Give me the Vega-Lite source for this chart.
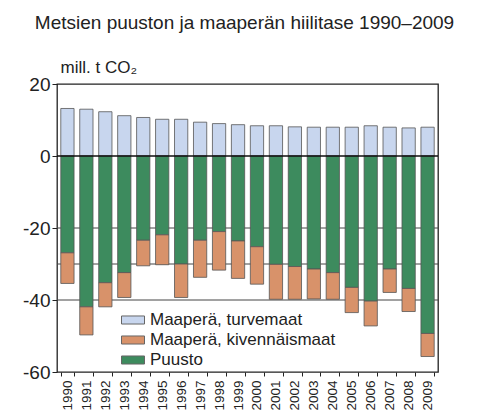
{
  "$schema": "https://vega.github.io/schema/vega-lite/v6.json",
  "width": 381,
  "height": 288,
  "autosize": "none",
  "padding": {"left": 57, "top": 84, "right": 52, "bottom": 48},
  "background": "white",
  "config": {
    "view": {"stroke": "#222", "strokeWidth": 1.3},
    "font": "Liberation Sans"
  },
  "title": {
    "text": "Metsien puuston ja maaperän hiilitase 1990–2009",
    "fontSize": 19,
    "fontWeight": "normal",
    "color": "#222",
    "anchor": "middle",
    "frame": "group",
    "offset": 25,
    "dx": -3
  },
  "layer": [
    {
      "data": {"values": [{"g": -20}, {"g": -30}, {"g": -40}]},
      "mark": {"type": "rule", "color": "#444", "strokeWidth": 1},
      "encoding": {
        "y": {"field": "g", "type": "quantitative", "scale": {"domain": [-60, 20], "nice": false},
          "axis": {"values": [20, 0, -20, -40, -60], "labelExpr": "replace(datum.label, '−', '-')", "title": "mill. t CO₂", "titleAngle": 0, "titleAlign": "left", "titleBaseline": "alphabetic", "titleX": 3, "titleY": -12, "titleFontSize": 17, "titleFontWeight": "normal", "titleColor": "#222", "labelFontSize": 19, "labelColor": "#222", "tickSize": 5, "tickColor": "#222", "domain": false, "grid": false, "labelPadding": 2}}
      }
    },
    {
      "data": {"values": [
        {"year": "1990", "category": "Maaperä, turvemaat", "value": 13.2},
        {"year": "1990", "category": "Puusto", "value": -26.9},
        {"year": "1990", "category": "Maaperä, kivennäismaat", "value": -8.5},
        {"year": "1991", "category": "Maaperä, turvemaat", "value": 13.0},
        {"year": "1991", "category": "Puusto", "value": -41.9},
        {"year": "1991", "category": "Maaperä, kivennäismaat", "value": -7.8},
        {"year": "1992", "category": "Maaperä, turvemaat", "value": 12.3},
        {"year": "1992", "category": "Puusto", "value": -35.2},
        {"year": "1992", "category": "Maaperä, kivennäismaat", "value": -6.7},
        {"year": "1993", "category": "Maaperä, turvemaat", "value": 11.2},
        {"year": "1993", "category": "Puusto", "value": -32.4},
        {"year": "1993", "category": "Maaperä, kivennäismaat", "value": -6.9},
        {"year": "1994", "category": "Maaperä, turvemaat", "value": 10.7},
        {"year": "1994", "category": "Puusto", "value": -23.4},
        {"year": "1994", "category": "Maaperä, kivennäismaat", "value": -7.1},
        {"year": "1995", "category": "Maaperä, turvemaat", "value": 10.2},
        {"year": "1995", "category": "Puusto", "value": -21.9},
        {"year": "1995", "category": "Maaperä, kivennäismaat", "value": -8.3},
        {"year": "1996", "category": "Maaperä, turvemaat", "value": 10.2},
        {"year": "1996", "category": "Puusto", "value": -30.0},
        {"year": "1996", "category": "Maaperä, kivennäismaat", "value": -9.3},
        {"year": "1997", "category": "Maaperä, turvemaat", "value": 9.4},
        {"year": "1997", "category": "Puusto", "value": -23.4},
        {"year": "1997", "category": "Maaperä, kivennäismaat", "value": -10.3},
        {"year": "1998", "category": "Maaperä, turvemaat", "value": 9.0},
        {"year": "1998", "category": "Puusto", "value": -21.0},
        {"year": "1998", "category": "Maaperä, kivennäismaat", "value": -10.7},
        {"year": "1999", "category": "Maaperä, turvemaat", "value": 8.7},
        {"year": "1999", "category": "Puusto", "value": -23.6},
        {"year": "1999", "category": "Maaperä, kivennäismaat", "value": -10.4},
        {"year": "2000", "category": "Maaperä, turvemaat", "value": 8.4},
        {"year": "2000", "category": "Puusto", "value": -25.2},
        {"year": "2000", "category": "Maaperä, kivennäismaat", "value": -10.4},
        {"year": "2001", "category": "Maaperä, turvemaat", "value": 8.4},
        {"year": "2001", "category": "Puusto", "value": -30.1},
        {"year": "2001", "category": "Maaperä, kivennäismaat", "value": -9.7},
        {"year": "2002", "category": "Maaperä, turvemaat", "value": 8.1},
        {"year": "2002", "category": "Puusto", "value": -30.7},
        {"year": "2002", "category": "Maaperä, kivennäismaat", "value": -9.1},
        {"year": "2003", "category": "Maaperä, turvemaat", "value": 8.0},
        {"year": "2003", "category": "Puusto", "value": -31.4},
        {"year": "2003", "category": "Maaperä, kivennäismaat", "value": -8.3},
        {"year": "2004", "category": "Maaperä, turvemaat", "value": 8.0},
        {"year": "2004", "category": "Puusto", "value": -32.4},
        {"year": "2004", "category": "Maaperä, kivennäismaat", "value": -7.4},
        {"year": "2005", "category": "Maaperä, turvemaat", "value": 8.0},
        {"year": "2005", "category": "Puusto", "value": -36.5},
        {"year": "2005", "category": "Maaperä, kivennäismaat", "value": -7.0},
        {"year": "2006", "category": "Maaperä, turvemaat", "value": 8.4},
        {"year": "2006", "category": "Puusto", "value": -40.3},
        {"year": "2006", "category": "Maaperä, kivennäismaat", "value": -6.9},
        {"year": "2007", "category": "Maaperä, turvemaat", "value": 8.0},
        {"year": "2007", "category": "Puusto", "value": -31.4},
        {"year": "2007", "category": "Maaperä, kivennäismaat", "value": -6.5},
        {"year": "2008", "category": "Maaperä, turvemaat", "value": 7.8},
        {"year": "2008", "category": "Puusto", "value": -36.8},
        {"year": "2008", "category": "Maaperä, kivennäismaat", "value": -6.4},
        {"year": "2009", "category": "Maaperä, turvemaat", "value": 8.0},
        {"year": "2009", "category": "Puusto", "value": -49.3},
        {"year": "2009", "category": "Maaperä, kivennäismaat", "value": -6.4}
      ]},
      "mark": {"type": "bar", "stroke": "#555", "strokeWidth": 0.8},
      "encoding": {
        "x": {"field": "year", "type": "ordinal", "scale": {"paddingInner": 0.3, "paddingOuter": 0.2},
          "axis": {"title": null, "labelAngle": -90, "labelFontSize": 13.5, "labelColor": "#222", "tickBand": "extent", "tickSize": 4, "tickColor": "#222", "domain": false, "labelPadding": 4}},
        "y": {"field": "value", "type": "quantitative", "stack": "zero", "scale": {"domain": [-60, 20], "nice": false},
          "axis": {"values": [20, 0, -20, -40, -60], "labelExpr": "replace(datum.label, '−', '-')", "title": "mill. t CO₂", "titleAngle": 0, "titleAlign": "left", "titleBaseline": "alphabetic", "titleX": 3, "titleY": -12, "titleFontSize": 17, "titleFontWeight": "normal", "titleColor": "#222", "labelFontSize": 19, "labelColor": "#222", "tickSize": 5, "tickColor": "#222", "domain": false, "grid": false, "labelPadding": 2}},
        "color": {"field": "category", "type": "nominal",
          "scale": {"domain": ["Maaperä, turvemaat", "Maaperä, kivennäismaat", "Puusto"], "range": ["#c8d6ee", "#d8926a", "#3d8b5e"]},
          "legend": {"title": null, "orient": "none", "legendX": 64, "legendY": 224, "symbolType": "M-1,-0.35H1V0.35H-1Z", "symbolSize": 529, "symbolStrokeColor": "#666", "symbolStrokeWidth": 1, "labelFontSize": 17, "labelColor": "#222", "labelOffset": 5, "rowPadding": -1, "labelLimit": 300}},
        "order": {"field": "category", "sort": "descending"}
      }
    },
    {
      "data": {"values": [{}]},
      "mark": {"type": "rule", "color": "#111", "strokeWidth": 1.3},
      "encoding": {"y": {"datum": 0, "type": "quantitative"}}
    }
  ]
}
